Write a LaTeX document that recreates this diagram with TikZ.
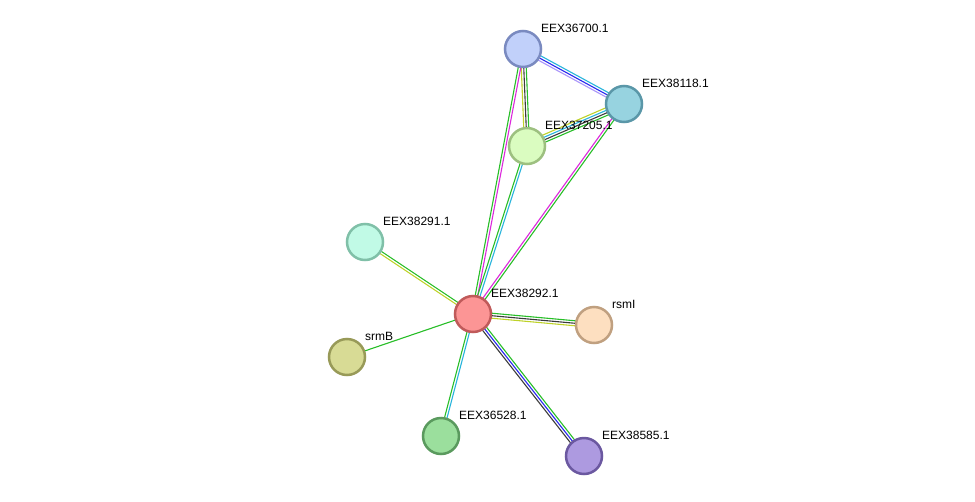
\documentclass[tikz,border=0pt]{standalone}
\usepackage{fontspec}
\setmainfont{Liberation Sans}
\usetikzlibrary{calc}

% node colours (fill / border)
\definecolor{fA}{RGB}{193,208,250}\definecolor{bA}{RGB}{122,138,192}
\definecolor{fB}{RGB}{151,211,224}\definecolor{bB}{RGB}{90,151,168}
\definecolor{fC}{RGB}{218,252,192}\definecolor{bC}{RGB}{157,192,128}
\definecolor{fD}{RGB}{193,250,230}\definecolor{bD}{RGB}{128,192,168}
\definecolor{fE}{RGB}{252,149,149}\definecolor{bE}{RGB}{192,90,90}
\definecolor{fF}{RGB}{253,223,192}\definecolor{bF}{RGB}{192,160,128}
\definecolor{fG}{RGB}{216,219,149}\definecolor{bG}{RGB}{152,154,88}
\definecolor{fH}{RGB}{155,223,157}\definecolor{bH}{RGB}{90,154,94}
\definecolor{fI}{RGB}{173,154,224}\definecolor{bI}{RGB}{107,88,160}
% edge colours
\definecolor{egreen}{RGB}{40,190,40}
\definecolor{emag}{RGB}{220,40,220}
\definecolor{ecyan}{RGB}{40,180,220}
\definecolor{eblue}{RGB}{40,40,240}
\definecolor{elav}{RGB}{170,150,250}
\definecolor{eyel}{RGB}{190,210,40}
\definecolor{edark}{RGB}{60,60,60}

\tikzset{
  prot/.style={circle, draw=#1, line width=2.5pt, minimum size=36pt, inner sep=0pt},
  lbl/.style={anchor=west, inner sep=0pt, font=\fontsize{12}{14}\selectfont},
  edge/.style={line width=1.1pt}
}

% parallel coloured lines between two nodes: colour/offset pairs
\newcommand{\linkedge}[3]{%
  \foreach \c/\o in {#3} {
    \draw[edge, \c] ($(#1.center)!\o*1.25pt!-90:(#2.center)$) -- ($(#2.center)!\o*1.25pt!90:(#1.center)$);
  }}

\begin{document}
\begin{tikzpicture}[x=1pt, y=-1pt]
\useasboundingbox[fill=white] (0,0) rectangle (975,501);

% ====================
% Coordinates of the proteins
\coordinate (n36700) at (523,49);
\coordinate (n38118) at (624,104);
\coordinate (n37205) at (527,146);
\coordinate (n38291) at (365,242);
\coordinate (n38292) at (473,314);
\coordinate (nrsmI) at (594,325);
\coordinate (nsrmB) at (347,357);
\coordinate (n36528) at (441,436);
\coordinate (n38585) at (584,456);

% ====================
% Edges (drawn below the nodes)
\linkedge{n36700}{n38118}{ecyan/-2, eblue/0, elav/2}
\linkedge{n36700}{n37205}{eyel/2, edark/0, egreen/-2}
\linkedge{n36700}{n38292}{egreen/1, emag/-1}
\linkedge{n37205}{n38118}{eyel/-3, ecyan/-1, edark/1, egreen/3}
\linkedge{n37205}{n38292}{egreen/1, ecyan/-1}
\linkedge{n38118}{n38292}{egreen/-1, emag/1}
\linkedge{n38291}{n38292}{egreen/-1, eyel/1}
\linkedge{n38292}{nrsmI}{egreen/-2, edark/0, eyel/2}
\linkedge{n38292}{nsrmB}{egreen/0}
\linkedge{n38292}{n36528}{ecyan/-1, egreen/1}
\linkedge{n38292}{n38585}{edark/2, eblue/0, egreen/-2}

% ====================
% Protein nodes
\node[prot=bA, fill=fA] (p36700) at (n36700) {};
\node[prot=bB, fill=fB] (p38118) at (n38118) {};
\node[prot=bC, fill=fC] (p37205) at (n37205) {};
\node[prot=bD, fill=fD] (p38291) at (n38291) {};
\node[prot=bE, fill=fE] (p38292) at (n38292) {};
\node[prot=bF, fill=fF] (prsmI) at (nrsmI) {};
\node[prot=bG, fill=fG] (psrmB) at (nsrmB) {};
\node[prot=bH, fill=fH] (p36528) at (n36528) {};
\node[prot=bI, fill=fI] (p38585) at (n38585) {};

% ====================
% Labels, up and right of each node
\node[lbl] (l36700) at ($(n36700)+(18,-21)$) {EEX36700.1};
\node[lbl] (l38118) at ($(n38118)+(18,-21)$) {EEX38118.1};
\node[lbl] (l37205) at ($(n37205)+(18,-21)$) {EEX37205.1};
\node[lbl] (l38291) at ($(n38291)+(18,-21)$) {EEX38291.1};
\node[lbl] (l38292) at ($(n38292)+(18,-21)$) {EEX38292.1};
\node[lbl] (lrsmI) at ($(nrsmI)+(18,-21)$) {rsmI};
\node[lbl] (lsrmB) at ($(nsrmB)+(18,-21)$) {srmB};
\node[lbl] (l36528) at ($(n36528)+(18,-21)$) {EEX36528.1};
\node[lbl] (l38585) at ($(n38585)+(18,-21)$) {EEX38585.1};

\end{tikzpicture}
\end{document}
